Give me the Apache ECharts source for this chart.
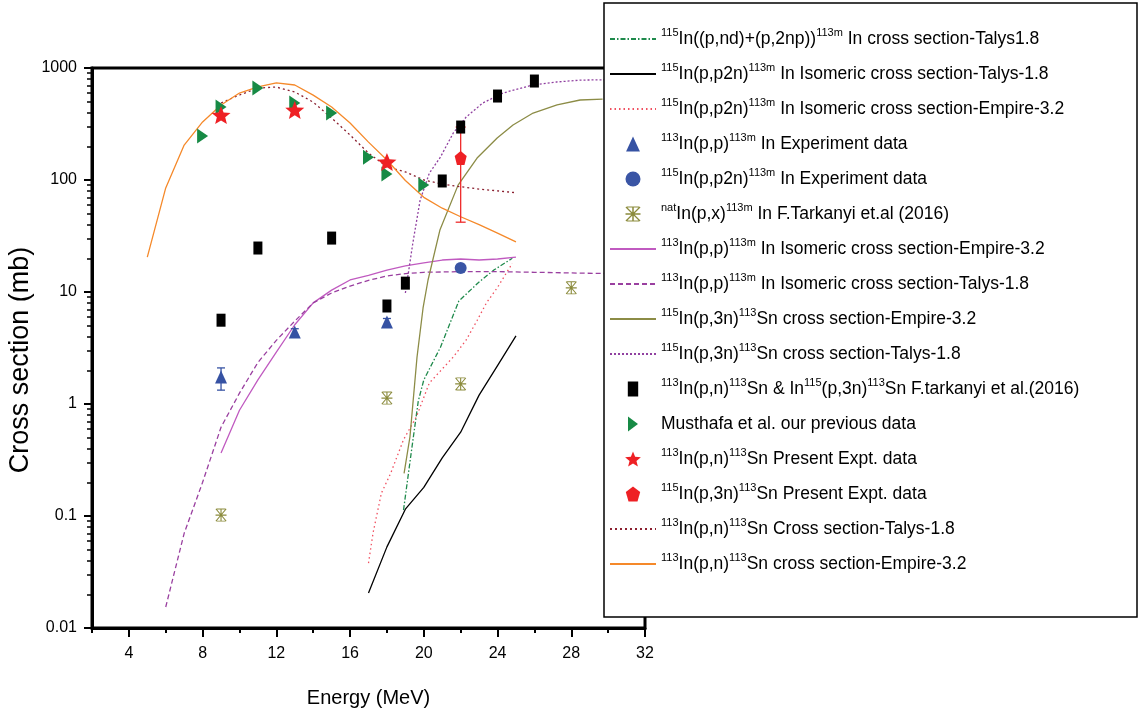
<!DOCTYPE html>
<html>
<head>
<meta charset="utf-8">
<title>Cross section vs energy</title>
<script src="https://cdn.jsdelivr.net/npm/echarts@6/dist/echarts.min.js"></script>
<style>
  html, body { margin: 0; padding: 0; background: #fff; }
  #chart { width: 1146px; height: 720px; }
</style>
</head>
<body>
<div id="chart"></div>
<script>
// tick labels
var energyTicks = [4, 8, 12, 16, 20, 24, 28, 32];
var energyMinor = [2, 6, 10, 14, 18, 22, 26, 30];
var xsTicks = [0.01, 0.1, 1, 10, 100, 1000];

// model curves (energy MeV, cross section mb)
var ndTalysE = [18.9, 19.3, 19.7, 20, 20.9, 21.9, 23, 23.8, 24.8];
var ndTalysXS = [0.113, 0.35, 1.06, 1.64, 3.2, 8.3, 12.3, 15.7, 20];

var p2nTalysE = [17, 18, 19, 20, 21, 22, 23, 24, 25];
var p2nTalysXS = [0.0205, 0.053, 0.115, 0.18, 0.33, 0.56, 1.2, 2.2, 4.05];

var p2nEmpireE = [17, 17.25, 17.7, 18.2, 18.9, 19.6, 20.3, 21.6, 22.3, 22.9, 23.4, 24, 24.8];
var p2nEmpireXS = [0.038, 0.071, 0.16, 0.24, 0.48, 0.77, 1.54, 2.63, 3.73, 5.6, 8.0, 11, 18];

var ppEmpireE = [9, 10, 11, 12, 13, 14, 15, 16, 17, 18, 19, 20, 21, 22, 23, 24, 25];
var ppEmpireXS = [0.365, 0.88, 1.64, 2.9, 5.1, 8.0, 10.4, 12.8, 14.1, 15.7, 17.1, 18.2, 19.3, 19.7, 19.3, 19.7, 20.5];

var ppTalysE = [6, 7, 8, 9, 10, 11, 12, 13, 14, 15, 16, 17, 18, 19, 20, 22, 24, 26, 28, 30];
var ppTalysXS = [0.0154, 0.07, 0.2, 0.62, 1.25, 2.35, 3.7, 5.5, 8.0, 9.8, 11.3, 12.7, 13.9, 14.6, 15.0, 15.2, 15.2, 15.0, 14.8, 14.6];

var p3nEmpireE = [18.93, 19.25, 19.63, 19.96, 20.23, 20.88, 21.86, 22.89, 23.98, 24.84, 25.93, 27.23, 28.48, 29.7];
var p3nEmpireXS = [0.24, 0.51, 2.6, 7.2, 12.8, 36, 90, 157, 237, 310, 396, 468, 518, 528];

var p3nTalysE = [19, 19.4, 19.8, 20.3, 20.9, 21.6, 22.3, 23.2, 24.3, 25.9, 27.2, 28.5, 30];
var p3nTalysXS = [9.8, 27, 66, 115, 160, 263, 365, 487, 598, 705, 750, 780, 785];

var pnTalysE = [9, 10, 11, 12, 13, 14, 15, 16, 17, 18, 19, 20, 21, 22, 23, 24, 25];
var pnTalysXS = [487, 574, 662, 676, 611, 496, 358, 252, 174, 131, 118, 100, 92, 87, 83, 80, 77];

var pnEmpireE = [5, 6, 7, 8, 9, 10, 11, 12, 13, 14, 15, 16, 17, 18, 19, 20, 21, 22, 23, 24, 25];
var pnEmpireXS = [20.5, 85, 205, 330, 468, 598, 677, 735, 705, 573, 449, 323, 218, 151, 99, 70, 56, 47, 40, 33.6, 28];

// measured points
var ppExpE = [9, 13, 18];
var ppExpXS = [1.74, 4.4, 5.4];
var ppExpLow = [1.33, 4.1, 5.0];
var ppExpHigh = [2.1, 4.7, 5.8];

var p2nExpE = [22];
var p2nExpXS = [16.4];

var natE = [9, 18, 22, 28];
var natXS = [0.102, 1.13, 1.51, 10.9];

var tarkE = [9, 11, 15, 18, 19, 21, 22, 24, 26];
var tarkXS = [5.6, 24.7, 30.3, 7.5, 12.0, 98, 297, 562, 765];

var musE = [8, 9, 11, 13, 15, 17, 18, 20];
var musXS = [247, 448, 663, 487, 396, 160, 113, 90];

var pnExpE = [9, 13, 18];
var pnExpXS = [380, 422, 145];

var p3nExpE = [22];
var p3nExpXS = [157];
var p3nExpLow = [42];
var p3nExpHigh = [297];

var FONT = '"Liberation Sans", Arial, sans-serif';

var SQUARE = 'path://M0,0H9V13H0Z';
var TRI_UP = 'path://M6,0L12,13H0Z';
var TRI_RIGHT = 'path://M0,0L10,7.5L0,15Z';
var STAR = 'path://M50,0L62.9,32.3L97.6,34.5L70.9,56.8L79.4,90.5L50,72L20.6,90.5L29.1,56.8L2.4,34.5L37.1,32.3Z';
var PENTA = 'path://M50,0L98,36L80,100L20,100L2,36Z';
var ASTER = 'path://M45,0H55V100H45Z M0,6L6,0L100,94L94,100Z M94,0L100,6L6,100L0,94Z M0,45H100V55H0Z M10,0H90V7H10Z M10,93H90V100H10Z';

function zip(xs, ys) {
  return xs.map(function (x, i) { return [x, ys[i]]; });
}

function curve(name, xs, ys, color, type) {
  return {
    name: name, type: 'line', data: zip(xs, ys), symbol: 'none', smooth: false,
    lineStyle: { color: color, width: 1.3, type: type || 'solid' },
    itemStyle: { color: color }, z: 2, silent: true
  };
}

function points(name, xs, ys, symbol, size, color) {
  return {
    name: name, type: 'scatter', data: zip(xs, ys), symbol: symbol, symbolSize: size,
    itemStyle: { color: color, opacity: 1 }, z: 5, silent: true
  };
}

function errBars(xs, lo, hi, color, cap) {
  return {
    type: 'custom', silent: true, z: 4,
    data: xs.map(function (x, i) { return [x, lo[i], hi[i]]; }),
    encode: { x: 0, y: [1, 2] },
    renderItem: function (params, api) {
      var a = api.coord([api.value(0), api.value(1)]);
      var b = api.coord([api.value(0), api.value(2)]);
      var st = { stroke: color, lineWidth: 1.3 };
      return {
        type: 'group', children: [
          { type: 'line', shape: { x1: a[0], y1: a[1], x2: b[0], y2: b[1] }, style: st },
          { type: 'line', shape: { x1: a[0] - cap, y1: a[1], x2: a[0] + cap, y2: a[1] }, style: st },
          { type: 'line', shape: { x1: b[0] - cap, y1: b[1], x2: b[0] + cap, y2: b[1] }, style: st }
        ]
      };
    }
  };
}

var labels = {
  'ndTalys': '{s|115}{n|In((p,nd)+(p,2np))}{s|113m}{n| In cross section-Talys1.8}',
  'p2nTalys': '{s|115}{n|In(p,p2n)}{s|113m}{n| In Isomeric cross section-Talys-1.8}',
  'p2nEmpire': '{s|115}{n|In(p,p2n)}{s|113m}{n| In Isomeric cross section-Empire-3.2}',
  'ppExp': '{s|113}{n|In(p,p)}{s|113m}{n| In Experiment data}',
  'p2nExp': '{s|115}{n|In(p,p2n)}{s|113m}{n| In Experiment data}',
  'nat': '{s|nat}{n|In(p,x)}{s|113m}{n| In F.Tarkanyi et.al (2016)}',
  'ppEmpire': '{s|113}{n|In(p,p)}{s|113m}{n| In Isomeric cross section-Empire-3.2}',
  'ppTalys': '{s|113}{n|In(p,p)}{s|113m}{n| In Isomeric cross section-Talys-1.8}',
  'p3nEmpire': '{s|115}{n|In(p,3n)}{s|113}{n|Sn cross section-Empire-3.2}',
  'p3nTalys': '{s|115}{n|In(p,3n)}{s|113}{n|Sn cross section-Talys-1.8}',
  'tark': '{s|113}{n|In(p,n)}{s|113}{n|Sn & In}{s|115}{n|(p,3n)}{s|113}{n|Sn F.tarkanyi et al.(2016)}',
  'mus': '{n|Musthafa et al. our previous data}',
  'pnExp': '{s|113}{n|In(p,n)}{s|113}{n|Sn Present Expt. data}',
  'p3nExp': '{s|115}{n|In(p,3n)}{s|113}{n|Sn Present Expt. data}',
  'pnTalys': '{s|113}{n|In(p,n)}{s|113}{n|Sn Cross section-Talys-1.8}',
  'pnEmpire': '{s|113}{n|In(p,n)}{s|113}{n|Sn cross section-Empire-3.2}'
};

var legendOrder = ['ndTalys', 'p2nTalys', 'p2nEmpire', 'ppExp', 'p2nExp', 'nat', 'ppEmpire', 'ppTalys',
  'p3nEmpire', 'p3nTalys', 'tark', 'mus', 'pnExp', 'p3nExp', 'pnTalys', 'pnEmpire'];
var markerNames = ['ppExp', 'p2nExp', 'nat', 'tark', 'mus', 'pnExp', 'p3nExp'];

var minorXS = [];
[0.01, 0.1, 1, 10, 100].forEach(function (d) {
  for (var k = 2; k <= 9; k++) minorXS.push(+(d * k).toPrecision(3));
});

var chart = echarts.init(document.getElementById('chart'), null, { renderer: 'canvas' });

chart.setOption({
  backgroundColor: '#fff',
  animation: false,
  grid: { left: 92, top: 68, width: 553, height: 560, show: true, borderColor: '#000', borderWidth: 3, backgroundColor: 'transparent' },
  xAxis: [{
    type: 'value', min: 2, max: 32, interval: 2,
    name: 'Energy (MeV)', nameLocation: 'middle', nameGap: 60,
    nameTextStyle: { fontFamily: FONT, fontSize: 20, color: '#000' },
    axisLine: { lineStyle: { color: '#000', width: 3 } },
    axisTick: { length: 9, lineStyle: { color: '#000', width: 2 }, customValues: energyTicks },
    axisLabel: { fontFamily: FONT, fontSize: 16, color: '#000', margin: 18, customValues: energyTicks },
    splitLine: { show: false }
  }, {
    type: 'value', min: 2, max: 32, interval: 2, position: 'bottom',
    axisLine: { show: false },
    axisTick: { length: 5, lineStyle: { color: '#000', width: 2 }, customValues: energyMinor },
    axisLabel: { show: false },
    splitLine: { show: false }
  }],
  yAxis: [{
    type: 'log', logBase: 10, min: xsTicks[0], max: xsTicks[xsTicks.length - 1],
    name: 'Cross section (mb)', nameLocation: 'middle', nameGap: 58,
    nameTextStyle: { fontFamily: FONT, fontSize: 27, color: '#000', padding: [0, 24, 0, 0] },
    axisLine: { lineStyle: { color: '#000', width: 3 } },
    axisTick: { length: 8, lineStyle: { color: '#000', width: 2 } },
    axisLabel: { fontFamily: FONT, fontSize: 16, color: '#000', margin: 15,
      formatter: function (v) { return String(+(+v).toPrecision(3)); } },
    splitLine: { show: false }
  }, {
    type: 'log', logBase: 10, min: xsTicks[0], max: xsTicks[xsTicks.length - 1], position: 'left',
    axisLine: { show: false },
    axisTick: { length: 5, lineStyle: { color: '#000', width: 1.5 }, customValues: minorXS },
    axisLabel: { show: false },
    splitLine: { show: false }
  }],
  legend: {
    orient: 'vertical', left: 604, top: 22, padding: 5, itemGap: 11,
    itemWidth: 46, itemHeight: 15, selectedMode: false, z: 200,
    data: legendOrder.map(function (n) {
      return markerNames.indexOf(n) >= 0 ? { name: n } : { name: n, itemStyle: { opacity: 0 } };
    }),
    formatter: function (name) { return labels[name]; },
    textStyle: {
      color: '#000', fontFamily: FONT, fontSize: 17.5, lineHeight: 24,
      rich: {
        n: { fontFamily: FONT, fontSize: 17.5, lineHeight: 24, color: '#000' },
        s: { fontFamily: FONT, fontSize: 11, lineHeight: 8, verticalAlign: 'top', color: '#000' }
      }
    }
  },
  graphic: [{
    type: 'rect', z: 100, silent: true,
    shape: { x: 604, y: 3, width: 533, height: 614 },
    style: { fill: '#fff', stroke: '#000', lineWidth: 1.5 }
  }],
  series: [
    curve('ndTalys', ndTalysE, ndTalysXS, '#1f8a4c', [5, 2, 1.5, 2]),
    curve('p2nTalys', p2nTalysE, p2nTalysXS, '#000000'),
    curve('p2nEmpire', p2nEmpireE, p2nEmpireXS, '#f05060', [1.5, 3]),
    curve('ppEmpire', ppEmpireE, ppEmpireXS, '#c05ac0'),
    curve('ppTalys', ppTalysE, ppTalysXS, '#9a40a0', [5, 3]),
    curve('p3nEmpire', p3nEmpireE, p3nEmpireXS, '#8c8c46'),
    curve('p3nTalys', p3nTalysE, p3nTalysXS, '#9040a0', [2, 2]),
    curve('pnTalys', pnTalysE, pnTalysXS, '#8b2030', [2, 3]),
    curve('pnEmpire', pnEmpireE, pnEmpireXS, '#f5892a'),
    errBars(ppExpE, ppExpLow, ppExpHigh, '#3652a3', 4),
    errBars(p3nExpE, p3nExpLow, p3nExpHigh, '#ee2b2b', 5),
    points('ppExp', ppExpE, ppExpXS, TRI_UP, [12, 13], '#3652a3'),
    points('p2nExp', p2nExpE, p2nExpXS, 'circle', 12, '#3a55a5'),
    points('nat', natE, natXS, ASTER, [11, 13], '#8b8b3c'),
    points('tark', tarkE, tarkXS, SQUARE, [9, 13], '#000000'),
    points('mus', musE, musXS, TRI_RIGHT, [11, 15], '#178a45'),
    points('pnExp', pnExpE, pnExpXS, STAR, [19, 18], '#ee2024'),
    points('p3nExp', p3nExpE, p3nExpXS, PENTA, [12, 14], '#ee2024')
  ]
});
</script>
</body>
</html>
